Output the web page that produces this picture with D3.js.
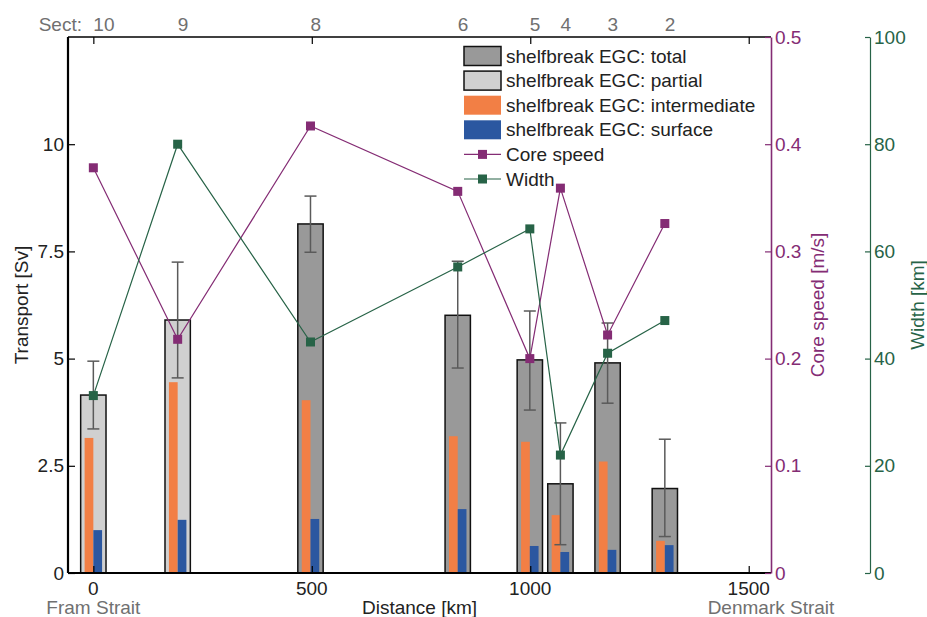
<!DOCTYPE html>
<html><head><meta charset="utf-8">
<script src="https://cdn.jsdelivr.net/npm/d3@7"></script>
<style>
body{margin:0;background:#fff;}
text{font-family:"Liberation Sans",Arial,Helvetica,sans-serif;}
</style></head>
<body><svg id="c" width="927" height="617"></svg>
<script>
// ---- data ----
const sections   = ["10","9","8","6","5","4","3","2"];
const distances  = [0, 193, 497, 834, 999, 1069, 1177, 1308];   // km
const barType    = ["partial","partial","total","total","total","total","total","total"];
const totalSv    = [4.15, 5.90, 8.14, 6.01, 4.97, 2.08, 4.90, 1.97];
const errHigh    = [4.94, 7.25, 8.79, 7.27, 6.11, 3.50, 5.83, 3.12];
const errLow     = [3.36, 4.55, 7.48, 4.78, 3.80, 0.66, 3.96, 0.85];
const intermSv   = [3.15, 4.45, 4.03, 3.19, 3.06, 1.35, 2.60, 0.75];
const surfaceSv  = [1.00, 1.24, 1.26, 1.49, 0.63, 0.49, 0.54, 0.65];
const coreSpeed  = [0.378, 0.218, 0.417, 0.356, 0.200, 0.359, 0.222, 0.326]; // m/s
const widthKm    = [33.1, 80.0, 43.1, 57.1, 64.2, 22.0, 41.0, 47.1];
const xTicks     = [0, 500, 1000, 1500];
const yTicks     = [0, 2.5, 5, 7.5, 10];
const speedTicks = [0, 0.1, 0.2, 0.3, 0.4, 0.5];
const widthTicks = [0, 20, 40, 60, 80, 100];
const legendLabels = ["shelfbreak EGC: total","shelfbreak EGC: partial","shelfbreak EGC: intermediate","shelfbreak EGC: surface","Core speed","Width"];

// ---- styles ----
const C = {total:"#999999", partial:"#d0d0d0", orange:"#f27f45", blue:"#2b57a0",
           purple:"#842c74", green:"#276347", err:"#5a5a5a", grey:"#707070"};
const FS = 19;

const svg = d3.select("#c");
const L=68, R=771, T=37, B=573;
const x = d3.scaleLinear().domain([-58,1551]).range([L,R]);
const y = d3.scaleLinear().domain([0,12.5]).range([B,T]);
const ys = d3.scaleLinear().domain([0,0.5]).range([B,T]);
const yw = d3.scaleLinear().domain([0,100]).range([B,T]);
const rows = sections.map((s,i)=>({s,d:distances[i],type:barType[i],tot:totalSv[i],hi:errHigh[i],lo:errLow[i],im:intermSv[i],su:surfaceSv[i],sp:coreSpeed[i],w:widthKm[i]}));

const barW = x(58)-x(0), subW = x(20)-x(0);

// bars
const g = svg.append("g");
g.selectAll("rect.tot").data(rows).join("rect")
  .attr("x",d=>x(d.d)-barW/2).attr("y",d=>y(d.tot))
  .attr("width",barW).attr("height",d=>y(0)-y(d.tot))
  .attr("fill",d=>d.type==="total"?C.total:C.partial)
  .attr("stroke","#111").attr("stroke-width",1.5);
g.selectAll("rect.im").data(rows).join("rect")
  .attr("x",d=>x(d.d)-subW).attr("y",d=>y(d.im))
  .attr("width",subW).attr("height",d=>y(0)-y(d.im)).attr("fill",C.orange);
g.selectAll("rect.su").data(rows).join("rect")
  .attr("x",d=>x(d.d)).attr("y",d=>y(d.su))
  .attr("width",subW).attr("height",d=>y(0)-y(d.su)).attr("fill",C.blue);

// error bars
const eb = svg.append("g").attr("stroke",C.err).attr("stroke-width",1.5).attr("fill","none");
rows.forEach(d=>{
  const cx=x(d.d);
  eb.append("line").attr("x1",cx).attr("x2",cx).attr("y1",y(d.hi)).attr("y2",y(d.lo));
  eb.append("line").attr("x1",cx-6).attr("x2",cx+6).attr("y1",y(d.hi)).attr("y2",y(d.hi));
  eb.append("line").attr("x1",cx-6).attr("x2",cx+6).attr("y1",y(d.lo)).attr("y2",y(d.lo));
});

// lines
function series(acc, sc, col){
  svg.append("path").datum(rows)
    .attr("d",d3.line().x(d=>x(d.d)).y(d=>sc(acc(d))))
    .attr("fill","none").attr("stroke",col).attr("stroke-width",1.2);
  svg.append("g").selectAll("rect").data(rows).join("rect")
    .attr("x",d=>x(d.d)-4.5).attr("y",d=>sc(acc(d))-4.5)
    .attr("width",9).attr("height",9).attr("fill",col);
}
series(d=>d.sp, ys, C.purple);
series(d=>d.w, yw, C.green);

// axes
const ax = svg.append("g");
// left
ax.append("g").attr("transform",`translate(${L},0)`)
  .call(d3.axisRight(y).tickValues(yTicks).tickSize(7).tickFormat(d=>d))
  .call(a=>{a.select(".domain").remove(); a.selectAll("text").remove();});
ax.append("g").selectAll("text").data(yTicks).join("text")
  .attr("x",L-4).attr("y",d=>y(d)).attr("dy","0.35em").attr("text-anchor","end")
  .attr("font-size",FS).attr("fill","#222").text(d=>d);
// bottom ticks (inward)
ax.append("g").attr("transform",`translate(0,${B})`)
  .call(d3.axisTop(x).tickValues(xTicks).tickSize(7))
  .call(a=>{a.select(".domain").remove(); a.selectAll("text").remove();});
ax.append("g").selectAll("text").data(xTicks).join("text")
  .attr("x",d=>x(d)).attr("y",595).attr("text-anchor","middle")
  .attr("font-size",FS).attr("fill","#222").text(d=>d);
// top ticks (inward)
ax.append("g").attr("transform",`translate(0,${T})`)
  .call(d3.axisBottom(x).tickValues(xTicks).tickSize(7).tickFormat(""))
  .call(a=>a.select(".domain").remove());
svg.selectAll(".tick line").attr("stroke","#000").attr("stroke-width",1.2);
// frame lines
ax.append("line").attr("x1",L).attr("x2",R).attr("y1",T).attr("y2",T).attr("stroke","#000").attr("stroke-width",1.5);
ax.append("line").attr("x1",L).attr("x2",R).attr("y1",B).attr("y2",B).attr("stroke","#000").attr("stroke-width",2.2);
ax.append("line").attr("x1",L).attr("x2",L).attr("y1",T).attr("y2",B).attr("stroke","#000").attr("stroke-width",2.2);

// right speed axis
const sa = svg.append("g").attr("transform",`translate(${R},0)`)
  .call(d3.axisLeft(ys).tickValues(speedTicks).tickSize(6).tickSizeOuter(0).tickFormat(""));
sa.select(".domain").attr("stroke",C.purple).attr("stroke-width",1.6);
sa.selectAll(".tick line").attr("stroke",C.purple).attr("stroke-width",1.2);
svg.append("g").selectAll("text").data(speedTicks).join("text")
  .attr("x",R+4).attr("y",d=>ys(d)).attr("dy","0.35em")
  .attr("font-size",FS).attr("fill",C.purple).text(d=>d);
// right width axis
const XW = 870;
const wa = svg.append("g").attr("transform",`translate(${XW},0)`)
  .call(d3.axisLeft(yw).tickValues(widthTicks).tickSize(5).tickSizeOuter(0).tickFormat(""));
wa.select(".domain").attr("stroke",C.green).attr("stroke-width",1.2);
wa.selectAll(".tick line").attr("stroke",C.green).attr("stroke-width",1.2);
svg.append("g").selectAll("text").data(widthTicks).join("text")
  .attr("x",XW+4).attr("y",d=>yw(d)).attr("dy","0.35em")
  .attr("font-size",FS).attr("fill",C.green).text(d=>d);

// axis titles
svg.append("text").attr("transform",`translate(28,${(T+B)/2}) rotate(-90)`)
  .attr("text-anchor","middle").attr("font-size",FS).attr("fill","#222").text("Transport [Sv]");
svg.append("text").attr("transform",`translate(824,${(T+B)/2}) rotate(-90)`)
  .attr("text-anchor","middle").attr("font-size",FS).attr("fill",C.purple).text("Core speed [m/s]");
svg.append("text").attr("transform",`translate(924,${(T+B)/2}) rotate(-90)`)
  .attr("text-anchor","middle").attr("font-size",FS).attr("fill",C.green).text("Width [km]");
svg.append("text").attr("x",(L+R)/2).attr("y",614).attr("text-anchor","middle")
  .attr("font-size",FS).attr("fill","#222").text("Distance [km]");
svg.append("text").attr("x",x(0)).attr("y",614).attr("text-anchor","middle")
  .attr("font-size",FS).attr("fill",C.grey).text("Fram Strait");
svg.append("text").attr("x",x(1551)).attr("y",614).attr("text-anchor","middle")
  .attr("font-size",FS).attr("fill",C.grey).text("Denmark Strait");

// section labels
svg.append("text").attr("x",82).attr("y",31).attr("text-anchor","end")
  .attr("font-size",FS).attr("fill",C.grey).text("Sect:");
svg.append("g").selectAll("text").data(rows).join("text")
  .attr("x",d=>x(d.d)).attr("y",31).attr("font-size",FS).attr("fill",C.grey).text(d=>d.s);

// legend
const lg = svg.append("g");
const lx=464, lw=37, ly0=56, ldy=24.6;
const sw = [
  {fill:C.total, stroke:"#111"},{fill:C.partial, stroke:"#111"},
  {fill:C.orange},{fill:C.blue},{line:C.purple},{line:C.green}];
sw.forEach((s,i)=>{
  const cy = ly0+i*ldy;
  if(s.fill){
    lg.append("rect").attr("x",lx).attr("y",cy-9.5).attr("width",lw).attr("height",19)
      .attr("fill",s.fill).attr("stroke",s.stroke||"none").attr("stroke-width",1.5);
  } else {
    lg.append("line").attr("x1",lx).attr("x2",lx+lw).attr("y1",cy).attr("y2",cy)
      .attr("stroke",s.line).attr("stroke-width",1.2);
    lg.append("rect").attr("x",lx+lw/2-4.5).attr("y",cy-4.5).attr("width",9).attr("height",9).attr("fill",s.line);
  }
  lg.append("text").attr("x",lx+lw+5).attr("y",cy).attr("dy","0.35em")
    .attr("font-size",FS).attr("fill","#222").text(legendLabels[i]);
});
</script></body></html>
